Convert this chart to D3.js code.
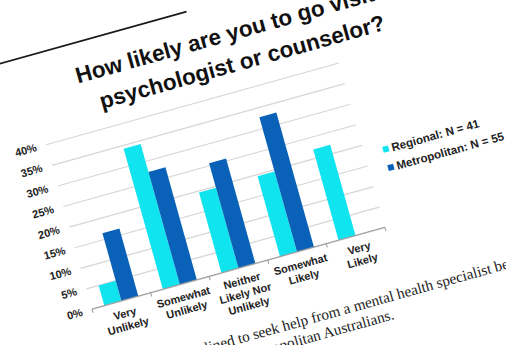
<!DOCTYPE html>
<html>
<head>
<meta charset="utf-8">
<script src="https://cdn.jsdelivr.net/npm/d3@7"></script>
<style>
  html, body { margin: 0; padding: 0; background: #fff; }
  svg { display: block; }
</style>
</head>
<body>
<svg id="chart" width="506" height="345"></svg>
<script>
// Survey responses: share of respondents per answer, by area
const categories = ["Very Unlikely", "Somewhat Unlikely", "Neither Likely Nor Unlikely", "Somewhat Likely", "Very Likely"];
const categoryLines = [["Very", "Unlikely"], ["Somewhat", "Unlikely"], ["Neither", "Likely Nor", "Unlikely"], ["Somewhat", "Likely"], ["Very", "Likely"]];
const seriesNames = ["Regional: N = 41", "Metropolitan: N = 55"];
const regional = [0.049, 0.341, 0.195, 0.195, 0.220];
const metropolitan = [0.164, 0.273, 0.255, 0.327, 0.0];
const yTicks = [0, 0.05, 0.10, 0.15, 0.20, 0.25, 0.30, 0.35, 0.40];
const titleLines = ["How likely are you to go visit a", "psychologist or counselor?"];
const bodyLines = [
  "Regional respondents were less inclined to seek help from a mental health specialist before",
  "compared with metropolitan Australians."
];

const colors = ["#10e4ef", "#0a62b8"];
const W = 304, H = 171;
const sans = "'Liberation Sans', Arial, sans-serif";
const serif = "'Liberation Serif', 'Times New Roman', serif";

const svg = d3.select("#chart");
// the slide is tilted; everything is laid out flat and then rotated
const slide = svg.append("g").attr("transform", "translate(92,309) rotate(-15.6)");
const plot = slide.append("g").attr("transform", `translate(0,${-H})`);

const x = d3.scaleBand().domain(categories).range([0, W]).paddingInner(0.42).paddingOuter(0.21);
const xs = d3.scaleBand().domain(seriesNames).range([0, x.bandwidth()]);
const y = d3.scaleLinear().domain([0, 0.40]).range([H, 0]);

// gridlines + percentage labels
const yAxis = d3.axisLeft(y).tickValues(yTicks).tickFormat(d3.format(".0%")).tickSize(-W).tickPadding(10);
const gy = plot.append("g").call(yAxis);
gy.select(".domain").remove();
gy.selectAll(".tick line").attr("stroke", "#d6d6d6").attr("stroke-width", 1.2);
gy.selectAll(".tick text")
  .attr("font-family", sans)
  .attr("font-weight", "bold").attr("font-size", 11).attr("fill", "#222");

// bars
const rows = categories.map((c, i) => ({ c, vals: [regional[i], metropolitan[i]] }));
const grp = plot.selectAll(".cat").data(rows).join("g")
  .attr("transform", d => `translate(${x(d.c)},0)`);
grp.selectAll("rect").data(d => d.vals.map((v, k) => ({ v, k })))
  .join("rect")
  .attr("x", d => xs(seriesNames[d.k]))
  .attr("width", xs.bandwidth())
  .attr("y", d => y(d.v))
  .attr("height", d => H - y(d.v))
  .attr("fill", d => colors[d.k]);

// category axis with boundary ticks
const step = x.step();
const xAxisG = plot.append("g").attr("transform", `translate(0,${H})`);
xAxisG.append("line").attr("x1", 0).attr("x2", W).attr("stroke", "#9a9a9a").attr("stroke-width", 1.2);
xAxisG.selectAll(".bt").data(d3.range(categories.length + 1)).join("line")
  .attr("x1", i => i * step).attr("x2", i => i * step)
  .attr("y1", 0).attr("y2", 4).attr("stroke", "#9a9a9a");
const catText = xAxisG.selectAll(".cl").data(rows).join("text")
  .attr("text-anchor", "middle")
  .attr("font-family", sans)
  .attr("font-weight", "bold").attr("font-size", 11).attr("fill", "#222");
catText.selectAll("tspan").data((d, i) => categoryLines[i].map(t => ({ t, c: d.c })))
  .join("tspan")
  .attr("x", d => x(d.c) + x.bandwidth() / 2)
  .attr("y", (d, j) => 17 + j * 13)
  .text(d => d.t);

// legend
const leg = slide.append("g").attr("transform", "translate(323,-75)");
const li = leg.selectAll("g").data(seriesNames).join("g")
  .attr("transform", (d, i) => `translate(0,${i * 19})`);
li.append("rect").attr("x", 0).attr("y", -3).attr("width", 6).attr("height", 6)
  .attr("fill", (d, i) => colors[i]);
li.append("text").attr("x", 9).attr("dy", "0.35em")
  .attr("font-family", sans)
  .attr("font-weight", "bold").attr("font-size", 11.6).attr("fill", "#222")
  .text(d => d);

// title
slide.append("text")
  .attr("text-anchor", "middle")
  .attr("font-family", sans)
  .attr("font-weight", "bold").attr("font-size", 22.5).attr("fill", "#111")
  .selectAll("tspan").data(titleLines).join("tspan")
  .attr("x", 211).attr("y", (d, i) => -221 + i * 31)
  .text(d => d);

// page edge above the slide
slide.append("line").attr("x1", -250).attr("x2", 171).attr("y1", -261).attr("y2", -261)
  .attr("stroke", "#1a1a1a").attr("stroke-width", 1.6);

// running text under the slide
const bodySize = 15.2;
const probe = slide.append("text").attr("font-family", serif).attr("font-size", bodySize)
  .text("Regional respondents were less incline");
const prefixW = probe.node().getComputedTextLength();
probe.remove();
slide.append("text").attr("font-family", serif).attr("font-size", bodySize).attr("fill", "#222")
  .attr("x", 121 - prefixW).attr("y", 73).text(bodyLines[0]);
slide.append("text").attr("font-family", serif).attr("font-size", bodySize).attr("fill", "#222")
  .attr("text-anchor", "end").attr("x", 289).attr("y", 91).text(bodyLines[1]);
</script>
</body>
</html>
